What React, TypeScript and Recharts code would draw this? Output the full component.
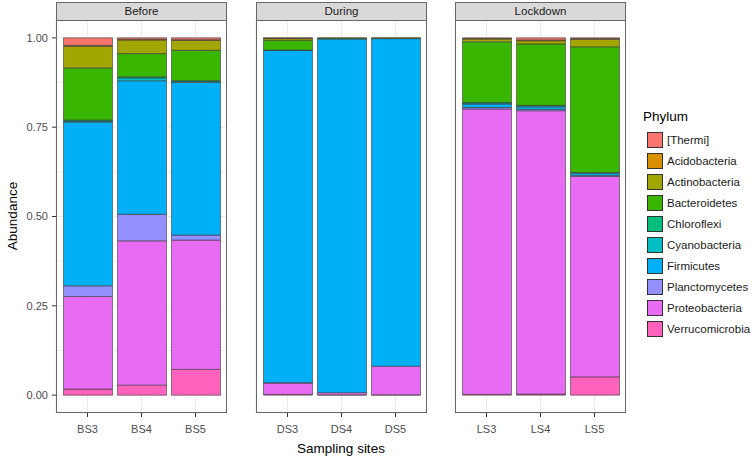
import React from 'react';
import { BarChart, Bar, XAxis, YAxis, CartesianGrid } from 'recharts';

const sites = ['BS3', 'BS4', 'BS5', 'DS3', 'DS4', 'DS5', 'LS3', 'LS4', 'LS5'];
const periods = ['Before', 'During', 'Lockdown'];
const periodOfSite = ['Before', 'Before', 'Before', 'During', 'During', 'During', 'Lockdown', 'Lockdown', 'Lockdown'];

// legend order (top of stack first)
const phyla = [
  '[Thermi]',
  'Acidobacteria',
  'Actinobacteria',
  'Bacteroidetes',
  'Chloroflexi',
  'Cyanobacteria',
  'Firmicutes',
  'Planctomycetes',
  'Proteobacteria',
  'Verrucomicrobia',
];
const phylumColors = [
  '#F8766D', '#D89000', '#A3A500', '#39B600', '#00BF7D',
  '#00BFC4', '#00B0F6', '#9590FF', '#E76BF3', '#FF62BC',
];

// relative abundance per site, same order as sites
const thermi = [0.021, 0.004, 0.005, 0.001, 0.0, 0.0, 0.002, 0.006, 0.002];
const acidobacteria = [0.003, 0.002, 0.002, 0.001, 0.0, 0.0, 0.001, 0.002, 0.002];
const actinobacteria = [0.06, 0.038, 0.028, 0.005, 0.001, 0.001, 0.008, 0.009, 0.021];
const bacteroidetes = [0.146, 0.065, 0.085, 0.027, 0.002, 0.001, 0.17, 0.172, 0.352];
const chloroflexi = [0.003, 0.003, 0.001, 0.0, 0.0, 0.0, 0.001, 0.001, 0.0];
const cyanobacteria = [0.003, 0.008, 0.004, 0.001, 0.0, 0.0, 0.003, 0.003, 0.002];
const firmicutes = [0.458, 0.374, 0.427, 0.93, 0.99, 0.917, 0.01, 0.007, 0.006];
const planctomycetes = [0.03, 0.074, 0.014, 0.001, 0.0, 0.0, 0.004, 0.004, 0.003];
const proteobacteria = [0.259, 0.404, 0.362, 0.032, 0.006, 0.08, 0.799, 0.793, 0.561];
const verrucomicrobia = [0.017, 0.028, 0.072, 0.002, 0.001, 0.001, 0.002, 0.003, 0.051];

const phylumValues = [
  thermi, acidobacteria, actinobacteria, bacteroidetes, chloroflexi,
  cyanobacteria, firmicutes, planctomycetes, proteobacteria, verrucomicrobia,
];

const yTicks = [0, 0.25, 0.5, 0.75, 1];
const gridValues = [0, 0.125, 0.25, 0.375, 0.5, 0.625, 0.75, 0.875, 1];

const rows = sites.map((site, i) => {
  const row: Record<string, string | number> = { site, period: periodOfSite[i] };
  phyla.forEach((p, j) => {
    row[p] = phylumValues[j][i];
  });
  return row;
});

const FONT = '"Liberation Sans", Arial, Helvetica, sans-serif';
const PANEL_W = 171;
const PANEL_H = 393;
const PANEL_TOP = 20;
const panelLefts = [56, 256, 455];
const BORDER = '#666666';

const Panel = ({ period, left, first }: { period: string; left: number; first: boolean }) => {
  const axisW = first ? left : 10;
  const data = rows.filter((r) => r.period === period);
  return (
    <>
      <div style={{ position: 'absolute', left: left - axisW, top: PANEL_TOP }}>
        <BarChart
          width={axisW + PANEL_W}
          height={PANEL_H + 40}
          data={data}
          margin={{ top: 0, right: 0, bottom: 0, left: 0 }}
        >
          <CartesianGrid stroke="#ebebeb" horizontalValues={gridValues} />
          <XAxis
            dataKey="site"
            height={40}
            padding={{ left: 4.5, right: 4.5 }}
            axisLine={false}
            tickSize={4}
            tickMargin={8}
            tickLine={{ stroke: '#333' }}
            tick={{ fontSize: 11, fill: '#4d4d4d', fontFamily: FONT }}
          />
          <YAxis
            width={axisW}
            domain={[-0.05, 1.05]}
            ticks={yTicks}
            allowDataOverflow
            axisLine={false}
            tickSize={4}
            tickMargin={4}
            tickLine={{ stroke: '#333' }}
            tick={first ? { fontSize: 11, fill: '#4d4d4d', fontFamily: FONT } : false}
            tickFormatter={(v: number) => v.toFixed(2)}
          />
          {[...phyla].reverse().map((p) => (
            <Bar
              key={p}
              dataKey={p}
              stackId="a"
              barSize={49}
              fill={phylumColors[phyla.indexOf(p)]}
              stroke="#3a3a3a"
              strokeWidth={0.6}
              isAnimationActive={false}
            />
          ))}
        </BarChart>
      </div>
      <div
        style={{
          position: 'absolute',
          left,
          top: PANEL_TOP,
          width: PANEL_W,
          height: PANEL_H,
          border: `1px solid ${BORDER}`,
          boxSizing: 'border-box',
          pointerEvents: 'none',
        }}
      />
      <div
        style={{
          position: 'absolute',
          left,
          top: 2,
          width: PANEL_W,
          height: 19,
          background: '#d9d9d9',
          border: `1px solid ${BORDER}`,
          boxSizing: 'border-box',
          textAlign: 'center',
          fontSize: 11.5,
          lineHeight: '17px',
          color: '#1a1a1a',
        }}
      >
        {period}
      </div>
    </>
  );
};

const App = () => {
  return (
    <div
      style={{
        position: 'absolute',
        left: 0,
        top: 0,
        width: 752,
        height: 462,
        background: '#fff',
        fontFamily: FONT,
        overflow: 'hidden',
      }}
    >
      {periods.map((p, i) => (
        <Panel key={p} period={p} left={panelLefts[i]} first={i === 0} />
      ))}

      <div
        style={{
          position: 'absolute',
          left: 13 - 40,
          top: 216 - 9,
          width: 80,
          height: 18,
          lineHeight: '18px',
          textAlign: 'center',
          fontSize: 13.5,
          color: '#000',
          transform: 'rotate(-90deg)',
        }}
      >
        Abundance
      </div>
      <div
        style={{
          position: 'absolute',
          left: 241,
          top: 440,
          width: 200,
          height: 18,
          lineHeight: '18px',
          textAlign: 'center',
          fontSize: 13.5,
          color: '#000',
        }}
      >
        Sampling sites
      </div>

      <div style={{ position: 'absolute', left: 643, top: 108 }}>
        <div style={{ fontSize: 13.5, lineHeight: '18px', color: '#000', height: 21 }}>Phylum</div>
        {phyla.map((p, i) => (
          <div key={p} style={{ display: 'flex', alignItems: 'center', height: 21, marginLeft: 4 }}>
            <div
              style={{
                width: 16,
                height: 16,
                background: phylumColors[i],
                border: '1px solid #333',
                boxSizing: 'border-box',
              }}
            />
            <span style={{ marginLeft: 4, fontSize: 11.5, color: '#1a1a1a' }}>{p}</span>
          </div>
        ))}
      </div>
    </div>
  );
};

export default App;
